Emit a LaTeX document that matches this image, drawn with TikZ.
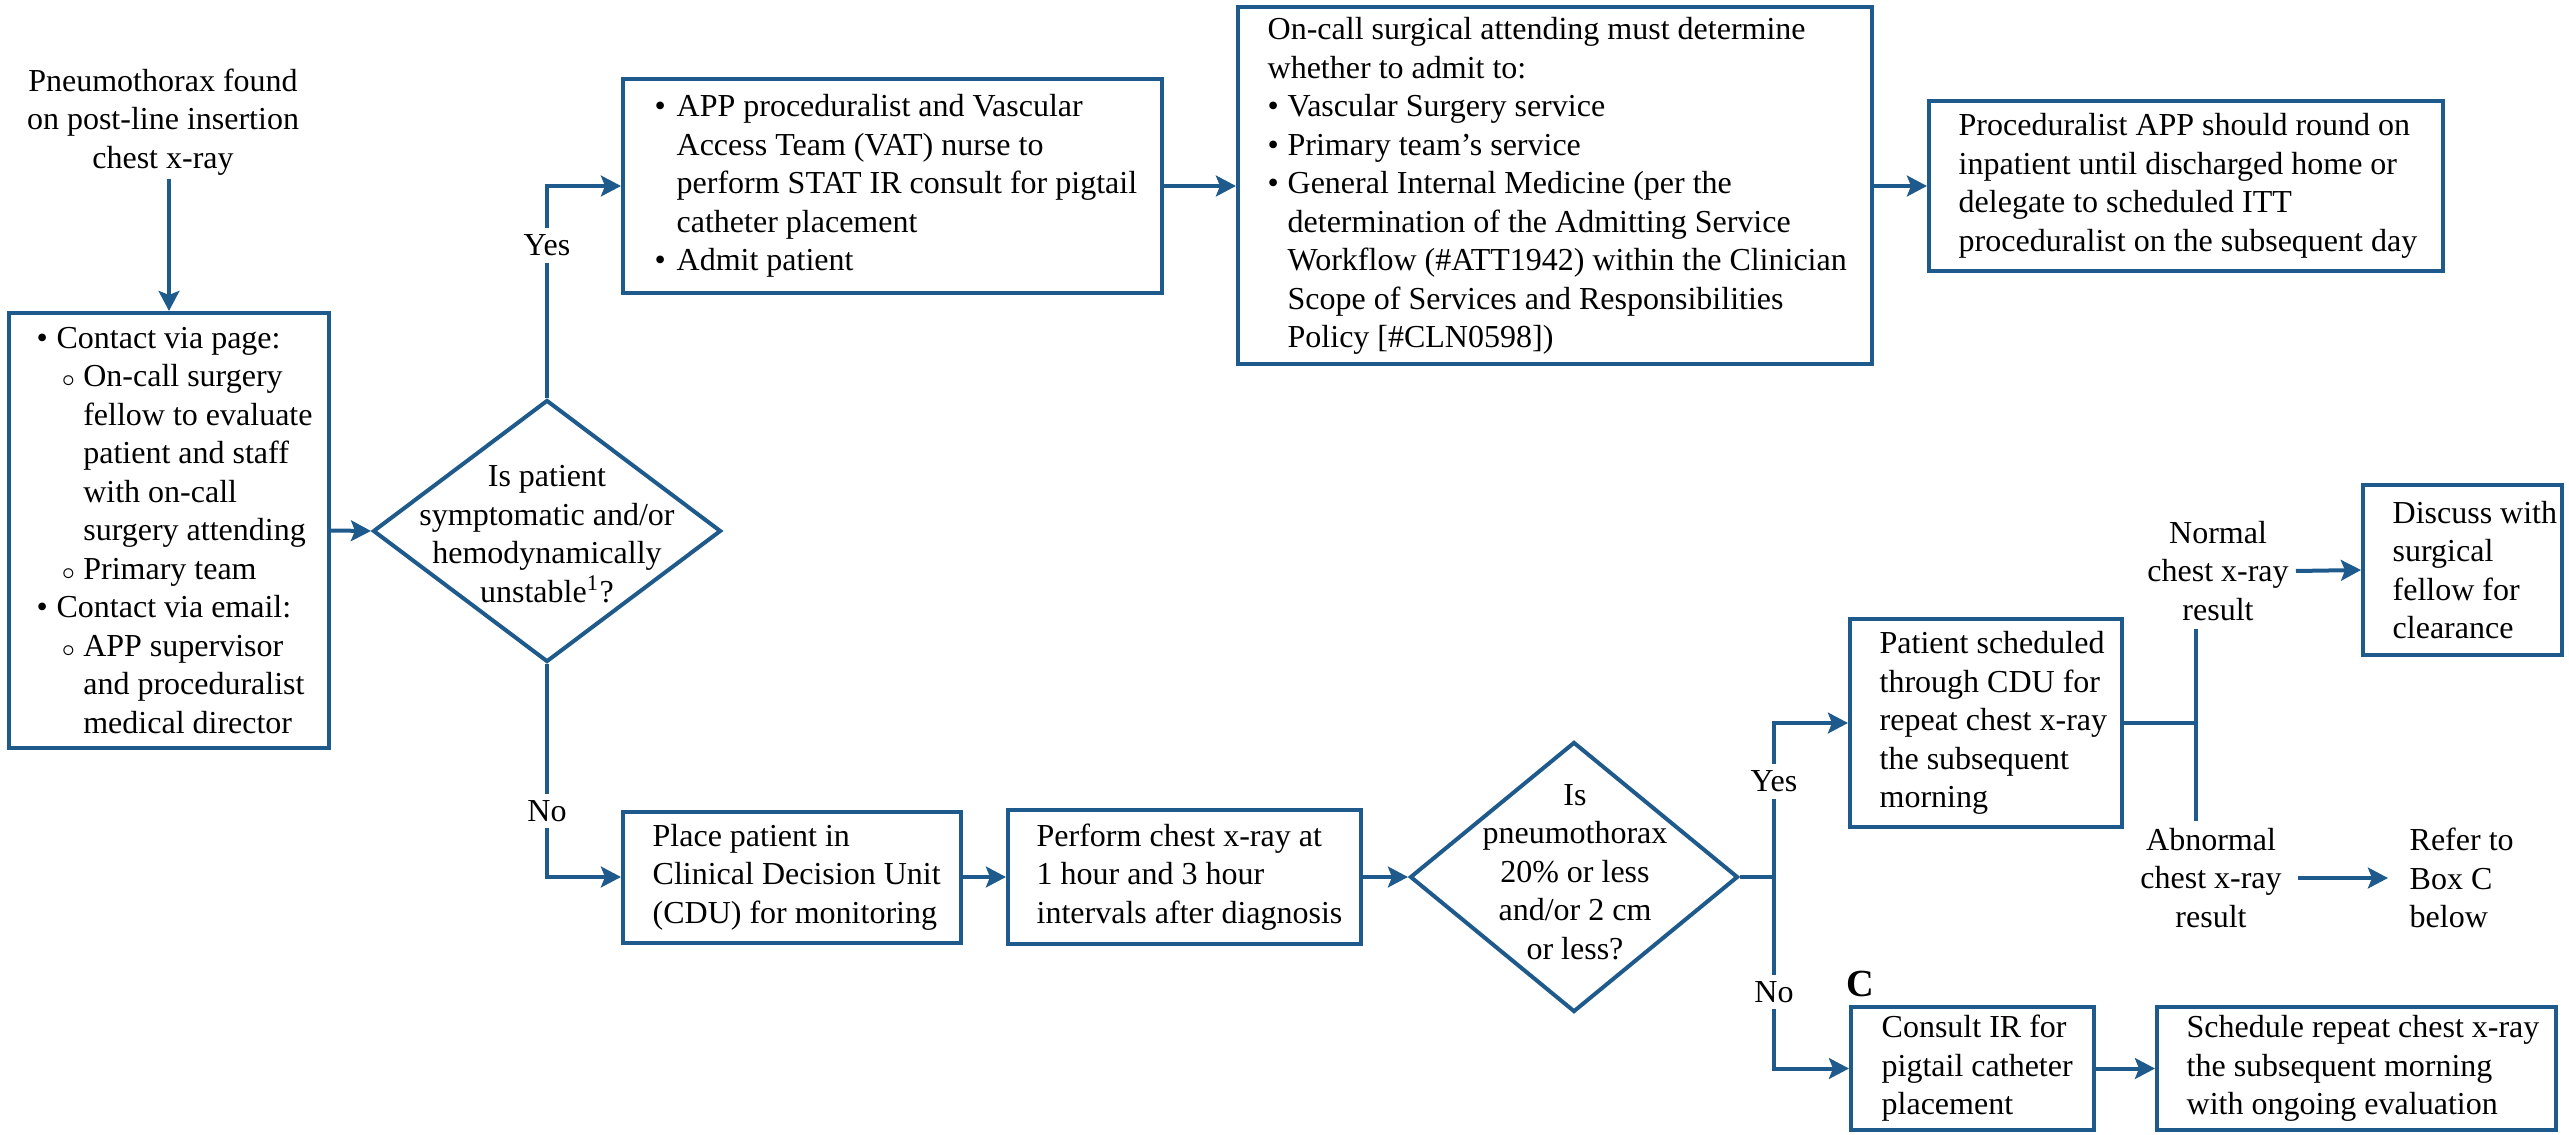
\documentclass[tikz,border=0pt]{standalone}
\usepackage{fontspec}
\setmainfont{Liberation Serif}
\usetikzlibrary{shapes.geometric,arrows.meta}
\definecolor{myblue}{RGB}{31,90,140}
\newcommand\fsz{\fontsize{9.6}{11.55}\selectfont}
\newcommand\bl[1][6pt]{\makebox[#1][l]{\textbullet}}
\newcommand\sbl{\makebox[8pt][l]{\hspace{1.5pt}$\scriptstyle\circ$}}
\begin{document}
\begin{tikzpicture}[x=0.3pt,y=-0.3pt,
 bx/.style={draw=myblue, line width=1.2pt, inner sep=0pt},
 dia/.style={draw=myblue, line width=1.2pt, diamond, inner sep=0pt},
 tx/.style={inner sep=0pt, align=left, font=\fsz},
 ctx/.style={inner sep=0pt, align=center, font=\fsz},
 arr/.style={draw=myblue, line width=1.2pt, -{Stealth[length=6pt,width=6.2pt,inset=1.2pt]}},
 ln/.style={draw=myblue, line width=1.2pt},
 lbl/.style={fill=white, inner sep=2pt, font=\fsz}]
\useasboundingbox (0,0) rectangle (2569,1135);

% start
\node[ctx] (st) at (163,122) {Pneumothorax found\\on post-line insertion\\chest x-ray};

% left box
\node[bx, minimum width=96pt, minimum height=130.5pt] (b1) at (169,530.5) {};
\node[tx, anchor=west] (b1t) at ([xshift=8.7pt]b1.west) {\bl Contact via page:\\
\hspace*{6pt}\sbl On-call surgery\\
\hspace*{14pt}fellow to evaluate\\
\hspace*{14pt}patient and staff\\
\hspace*{14pt}with on-call\\
\hspace*{14pt}surgery attending\\
\hspace*{6pt}\sbl Primary team\\
\bl Contact via email:\\
\hspace*{6pt}\sbl APP supervisor\\
\hspace*{14pt}and proceduralist\\
\hspace*{14pt}medical director};

% diamond 1
\node[dia, minimum width=104.4pt, minimum height=78.6pt] (d1) at (547,531) {};
\node[ctx] (d1t) at (547,534) {Is patient\\symptomatic and/or\\hemodynamically\\unstable\textsuperscript{1}?};

% box 2
\node[bx, minimum width=161.7pt, minimum height=64.2pt] (b2) at (892.5,186) {};
\node[tx, anchor=west] (b2t) at ([xshift=9.9pt]b2.west) {\bl[6.6pt]APP proceduralist and Vascular\\
\hspace*{6.6pt}Access Team (VAT) nurse to\\
\hspace*{6.6pt}perform STAT IR consult for pigtail\\
\hspace*{6.6pt}catheter placement\\
\bl[6.6pt]Admit patient};

% box 3
\node[bx, minimum width=190.2pt, minimum height=107.1pt] (b3) at (1555,186) {};
\node[tx, anchor=west] (b3t) at ([xshift=9.3pt]b3.west) {On-call surgical attending must determine\\
whether to admit to:\\
\bl Vascular Surgery service\\
\bl Primary team’s service\\
\bl General Internal Medicine (per the\\
\hspace*{6pt}determination of the Admitting Service\\
\hspace*{6pt}Workflow (\#ATT1942) within the Clinician\\
\hspace*{6pt}Scope of Services and Responsibilities\\
\hspace*{6pt}Policy [\#CLN0598])};

% box 4
\node[bx, minimum width=154.2pt, minimum height=51pt] (b4) at (2186,186) {};
\node[tx, anchor=west] (b4t) at ([xshift=9.3pt]b4.west) {Proceduralist APP should round on\\
inpatient until discharged home or\\
delegate to scheduled ITT\\
proceduralist on the subsequent day};

% box 5, 6
\node[bx, minimum width=101.4pt, minimum height=39.3pt] (b5) at (792,877) {};
\node[tx, anchor=west] (b5t) at ([xshift=9.3pt]b5.west) {Place patient in\\Clinical Decision Unit\\(CDU) for monitoring};
\node[bx, minimum width=105.9pt, minimum height=40.2pt] (b6) at (1184.5,877) {};
\node[tx, anchor=west] (b6t) at ([xshift=9pt]b6.west) {Perform chest x-ray at\\1 hour and 3 hour\\intervals after diagnosis};

% diamond 2
\node[dia, minimum width=98.4pt, minimum height=81pt] (d2) at (1574,877) {};
\node[ctx] (d2t) at (1575,872) {Is\\pneumothorax\\20\% or less\\and/or 2 cm\\or less?};
\coordinate (jb) at (1774,877);

% box 7
\node[bx, minimum width=81.6pt, minimum height=62.4pt] (b7) at (1986,723) {};
\node[tx, anchor=west] (b7t) at ([xshift=9.3pt]b7.west) {Patient scheduled\\through CDU for\\repeat chest x-ray\\the subsequent\\morning};
\coordinate (jn) at (2196,723);

\node[ctx] (nl) at (2218,571) {Normal\\chest x-ray\\result};
\node[ctx] (al) at (2211,878) {Abnormal\\chest x-ray\\result};
\node[tx, anchor=west] (rt) at (2409,878) {Refer to\\Box C\\below};

% box 8
\node[bx, minimum width=59.7pt, minimum height=51pt] (b8) at (2462.5,570) {};
\node[tx, anchor=west] (b8t) at ([xshift=9.3pt]b8.west) {Discuss with\\surgical\\fellow for\\clearance};

% box C and 10
\node[font=\fontsize{11.5}{12}\selectfont\bfseries, inner sep=0pt] (cl) at (1860,984) {C};
\node[bx, minimum width=72.9pt, minimum height=36.9pt] (bC) at (1972.5,1068.5) {};
\node[tx, anchor=west] (bCt) at ([xshift=9.6pt]bC.west) {Consult IR for\\pigtail catheter\\placement};
\node[bx, minimum width=119.7pt, minimum height=36.9pt] (b10) at (2356.5,1068.5) {};
\node[tx, anchor=west] (b10t) at ([xshift=9.3pt]b10.west) {Schedule repeat chest x-ray\\the subsequent morning\\with ongoing evaluation};

% connectors
\draw[arr] ([yshift=-1pt]b1.north |- st.south) -- (b1.north);
\draw[arr] (b1.east) -- (d1.west);
\draw[arr] (d1.north) -- node[lbl,pos=0.72]{Yes} (d1.north |- b2.west) -- (b2.west);
\draw[arr] (b2.east) -- (b3.west);
\draw[arr] (b3.east) -- (b4.west);
\draw[arr] (d1.south) -- node[lbl,pos=0.69]{No} (d1.south |- b5.west) -- (b5.west);
\draw[arr] (b5.east) -- (b6.west);
\draw[arr] (b6.east) -- (d2.west);
\draw[ln] (d2.east) -- (jb);
\draw[arr] (jb) -- node[lbl,pos=0.62]{Yes} (jb |- b7.west) -- (b7.west);
\draw[arr] (jb) -- node[lbl,pos=0.6]{No} (jb |- bC.west) -- (bC.west);
\draw[ln] (b7.east) -- (jn);
\coordinate (jt) at (jn |- nl.south);
\coordinate (jbm) at (jn |- al.north);
\draw[ln] ([yshift=-2.4pt]jt) -- ([yshift=2pt]jbm);
\draw[arr] ([xshift=2pt]nl.east) -- (b8.west);
\draw[arr] ([xshift=4.8pt]al.east) -- ([xshift=-6.3pt]rt.west);
\draw[arr] (bC.east) -- (b10.west);
\end{tikzpicture}
\end{document}
